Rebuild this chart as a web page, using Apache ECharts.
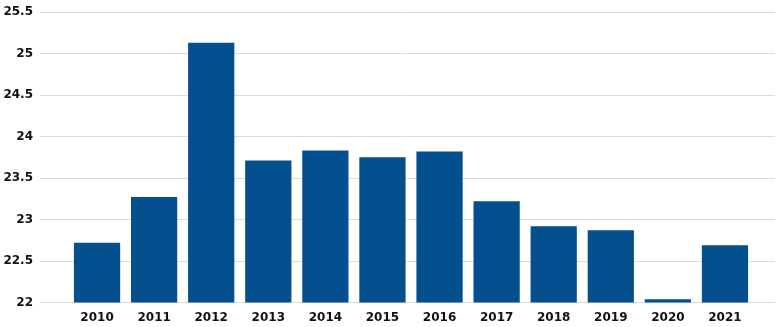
<!DOCTYPE html>
<html>
<head>
<meta charset="utf-8">
<script src="https://cdn.jsdelivr.net/npm/echarts@6/dist/echarts.min.js"></script>
<style>
  html, body { margin: 0; padding: 0; background: #ffffff; }
  #chart { width: 783px; height: 327px; }
</style>
</head>
<body>
<div id="chart"></div>
<script>
// Yearly values
const years = ['2010', '2011', '2012', '2013', '2014', '2015', '2016', '2017', '2018', '2019', '2020', '2021'];
const values = [22.72, 23.27, 25.13, 23.71, 23.83, 23.75, 23.82, 23.22, 22.92, 22.87, 22.04, 22.69];

// Value axis range and step
const yMin = 22;
const yMax = 25.5;
const yStep = 0.5;

const labelFont = {
  fontFamily: 'DejaVu Sans',
  fontWeight: 'bold',
  fontSize: 12,
  color: '#111111'
};

const chart = echarts.init(document.getElementById('chart'), null, { renderer: 'canvas' });

chart.setOption({
  animation: false,
  backgroundColor: '#ffffff',
  grid: [
    // wide grid carrying the value axis and its gridlines
    { left: 40, right: 8, top: 12, bottom: 24.5, containLabel: false },
    // narrower grid holding the bars and year labels
    { left: 68.5, right: 29.5, top: 12, bottom: 24.5, containLabel: false }
  ],
  xAxis: [
    { gridIndex: 0, type: 'value', show: false, min: 0, max: 1 },
    {
      gridIndex: 1,
      type: 'category',
      data: years,
      axisLine: { show: false },
      axisTick: { show: false },
      axisLabel: Object.assign({ margin: 9 }, labelFont)
    }
  ],
  yAxis: [
    {
      gridIndex: 0,
      type: 'value',
      min: yMin,
      max: yMax,
      interval: yStep,
      axisLine: { show: false },
      axisTick: { show: false },
      axisLabel: Object.assign({ margin: 7 }, labelFont),
      splitLine: { lineStyle: { color: '#dcdcdc', width: 1 } }
    },
    {
      gridIndex: 1,
      type: 'value',
      min: yMin,
      max: yMax,
      interval: yStep,
      show: false,
      splitLine: { show: false }
    }
  ],
  series: [
    {
      type: 'bar',
      xAxisIndex: 1,
      yAxisIndex: 1,
      data: values,
      barCategoryGap: '19%',
      itemStyle: { color: '#04508f' }
    }
  ]
});
</script>
</body>
</html>
